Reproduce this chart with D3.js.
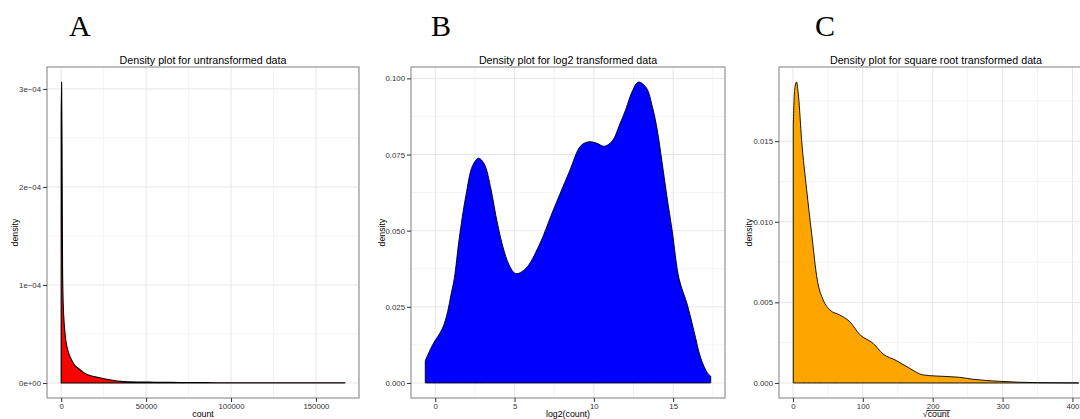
<!DOCTYPE html>
<meta charset="utf-8">
<script src="https://d3js.org/d3.v7.js"></script>
<style>
  body { margin: 0; background: #fff; }
  text { font-family: "Liberation Sans", Arial, sans-serif; }
</style>
<div id="chart"></div>
<script>

// density curves
const countX = [0, 250, 500, 800, 1200, 1800, 2600, 3500, 4500, 6000, 8000, 10000, 12500, 15000, 18000, 22000, 26000, 30000, 35000, 40000, 45000, 52000, 60000, 70000, 85000, 100000, 130000, 167000];
const countY = [2.7e-4, 3.07e-4, 2.4e-4, 1.2e-4, 8e-5, 6e-5, 4.5e-5, 3.6e-5, 3.0e-5, 2.4e-5, 1.8e-5, 1.5e-5, 1.15e-5, 9e-6, 7e-6, 5.5e-6, 4e-6, 2.8e-6, 1.6e-6, 1.1e-6, 0.9e-6, 0.8e-6, 0.7e-6, 0.4e-6, 0.3e-6, 0.2e-6, 0.15e-6, 0.1e-6];

const log2X = [-0.63, -0.17, 0.46, 0.78, 0.99, 1.2, 1.51, 1.93, 2.35, 2.73, 3.09, 3.51, 3.82, 4.24, 4.66, 5.08, 5.71, 6.55, 7.39, 8.44, 9.18, 9.7, 10.2, 10.65, 11.17, 11.6, 12.02, 12.4, 12.81, 13.3, 13.7, 14.0, 14.3, 14.6, 14.95, 15.37, 15.9, 16.32, 16.74, 17.16, 17.37];
const log2Y = [0.0073, 0.0125, 0.018, 0.0234, 0.0289, 0.0343, 0.0474, 0.0615, 0.0713, 0.0738, 0.0719, 0.0637, 0.055, 0.0452, 0.0387, 0.0359, 0.0376, 0.0452, 0.0561, 0.0692, 0.0779, 0.0792, 0.0787, 0.0777, 0.0795, 0.0845, 0.0899, 0.0955, 0.0988, 0.0970, 0.0905, 0.0830, 0.0725, 0.0615, 0.0496, 0.0343, 0.0256, 0.0169, 0.0082, 0.0033, 0.0022];

const sqrtX = [0.5, 2.5, 5.2, 8, 12.4, 19.6, 26.7, 34.8, 43.3, 52.9, 67, 81.4, 95.7, 114.7, 129, 148, 167, 186, 205, 238.6, 257.6, 296, 350, 409];
const sqrtY = [0.0160, 0.0182, 0.01867, 0.0178, 0.0151, 0.012, 0.0093, 0.0064, 0.00515, 0.00453, 0.00422, 0.0038, 0.003, 0.00246, 0.0018, 0.00139, 0.00091, 0.0005, 0.00043, 0.00035, 0.00023, 0.0001, 0.00002, 0.0];

// ticks
const countTicks = [0, 50000, 100000, 150000];
const countDensTicks = [0, 1e-4, 2e-4, 3e-4];
const countDensLabels = ["0e+00", "1e\u221204", "2e\u221204", "3e\u221204"];
const log2Ticks = [0, 5, 10, 15];
const log2DensTicks = [0, 0.025, 0.05, 0.075, 0.1];
const sqrtTicks = [0, 100, 200, 300, 400];
const sqrtDensTicks = [0, 0.005, 0.01, 0.015];

const titles = ["Density plot for untransformed data", "Density plot for log2 transformed data", "Density plot for square root transformed data"];
const letters = ["A", "B", "C"];

const svg = d3.select("#chart").append("svg")
  .attr("width", 1080)
  .attr("height", 419);

const panels = [
  {x: countX, y: countY, xt: countTicks, yt: countDensTicks, yl: countDensLabels, fill: "#ff0000", left: 47, right: 359, letterX: 69, ylabX: 15, xlab: "count", sw: 1.1, curve: d3.curveMonotoneX},
  {x: log2X, y: log2Y, xt: log2Ticks, yt: log2DensTicks, yl: log2DensTicks.map(d3.format(".3f")), fill: "#0000ff", left: 411, right: 725, letterX: 431, ylabX: 382, xlab: "log2(count)", sw: 0.9, curve: d3.curveCatmullRom.alpha(0.5)},
  {x: sqrtX, y: sqrtY, xt: sqrtTicks, yt: sqrtDensTicks, yl: sqrtDensTicks.map(d3.format(".3f")), fill: "#ffa500", left: 779, right: 1093, letterX: 815, ylabX: 749, xlab: "sqrt", sw: 0.9, curve: d3.curveMonotoneX}
];

const panelTop = 67, panelBottom = 398;
const xlabY = 417;

panels.forEach(function(p, i) {
  const g = svg.append("g");

  const xe = d3.extent(p.x), ymax = d3.max(p.y);
  const xpad = (xe[1] - xe[0]) * 0.05, ypad = ymax * 0.05;
  const x = d3.scaleLinear().domain([xe[0] - xpad, xe[1] + xpad]).range([p.left, p.right]);
  const y = d3.scaleLinear().domain([-ypad, ymax + ypad]).range([panelBottom, panelTop]);

  const clipId = "clip" + i;
  g.append("clipPath").attr("id", clipId)
    .append("rect").attr("x", p.left).attr("y", panelTop)
    .attr("width", p.right - p.left).attr("height", panelBottom - panelTop);

  const inner = g.append("g").attr("clip-path", `url(#${clipId})`);

  // grid, minor then major
  const xstep = p.xt[1] - p.xt[0], ystep = p.yt[1] - p.yt[0];
  const xminor = p.xt.map(d => d + xstep / 2).filter(d => d < x.domain()[1]);
  const yminor = p.yt.map(d => d + ystep / 2).filter(d => d < y.domain()[1]);

  inner.selectAll(".vminor").data(xminor).join("line")
    .attr("x1", d => x(d)).attr("x2", d => x(d)).attr("y1", panelTop).attr("y2", panelBottom)
    .style("stroke", "#f4f4f4").style("stroke-width", 1);
  inner.selectAll(".hminor").data(yminor).join("line")
    .attr("y1", d => y(d)).attr("y2", d => y(d)).attr("x1", p.left).attr("x2", p.right)
    .style("stroke", "#f4f4f4").style("stroke-width", 1);
  inner.selectAll(".vmajor").data(p.xt).join("line")
    .attr("x1", d => x(d)).attr("x2", d => x(d)).attr("y1", panelTop).attr("y2", panelBottom)
    .style("stroke", "#e6e6e6").style("stroke-width", 1);
  inner.selectAll(".hmajor").data(p.yt).join("line")
    .attr("y1", d => y(d)).attr("y2", d => y(d)).attr("x1", p.left).attr("x2", p.right)
    .style("stroke", "#e6e6e6").style("stroke-width", 1);

  // density area
  const pts = p.x.map((d, j) => [d, p.y[j]]);
  const area = d3.area()
    .x(d => x(d[0]))
    .y0(y(0))
    .y1(d => y(d[1]))
    .curve(p.curve);

  inner.append("path")
    .datum(pts)
    .attr("d", area)
    .style("fill", p.fill)
    .style("stroke", "#000")
    .style("stroke-width", p.sw)
    .style("stroke-linejoin", "round");

  // border
  g.append("rect")
    .attr("x", p.left).attr("y", panelTop)
    .attr("width", p.right - p.left).attr("height", panelBottom - panelTop)
    .style("fill", "none").style("stroke", "#7f7f7f").style("stroke-width", 1);

  // axes
  const xAxis = d3.axisBottom(x).tickValues(p.xt).tickSize(4).tickSizeOuter(0).tickPadding(1.5)
    .tickFormat(d3.format("d"));
  const gx = g.append("g").attr("transform", `translate(0,${panelBottom})`).call(xAxis);
  gx.select(".domain").remove();

  const yAxis = d3.axisLeft(y).tickValues(p.yt).tickSize(4).tickSizeOuter(0).tickPadding(2)
    .tickFormat((d, j) => p.yl[j]);
  const gy = g.append("g").attr("transform", `translate(${p.left},0)`).call(yAxis);
  gy.select(".domain").remove();

  [gx, gy].forEach(function(a) {
    a.selectAll(".tick line").style("stroke", "#333").style("stroke-width", 1);
    a.selectAll(".tick text").style("font-size", "7.8px").style("fill", "#333")
      .style("font-family", "Liberation Sans, Arial, sans-serif");
  });

  // title
  g.append("text")
    .attr("x", (p.left + p.right) / 2).attr("y", 64)
    .attr("text-anchor", "middle")
    .style("font-size", "10.7px").style("fill", "#000")
    .text(titles[i]);

  // y label
  g.append("text")
    .attr("transform", `translate(${p.ylabX + 3},${(panelTop + panelBottom) / 2}) rotate(-90)`)
    .attr("text-anchor", "middle")
    .style("font-size", "8.8px").style("fill", "#000")
    .text("density");

  // x label
  if (p.xlab === "sqrt") {
    const cx = (p.left + p.right) / 2;
    const t = g.append("text")
      .attr("x", cx).attr("y", xlabY)
      .attr("text-anchor", "middle")
      .style("font-size", "8.8px").style("fill", "#000");
    t.append("tspan").text("\u221a");
    const word = t.append("tspan").text("count");
    const bb = word.node().getBBox();
    g.append("line")
      .attr("x1", bb.x - 1).attr("x2", bb.x + bb.width + 0.5)
      .attr("y1", xlabY - 6.5).attr("y2", xlabY - 6.5)
      .style("stroke", "#000").style("stroke-width", 0.7);
  } else {
    g.append("text")
      .attr("x", (p.left + p.right) / 2).attr("y", xlabY)
      .attr("text-anchor", "middle")
      .style("font-size", "8.8px").style("fill", "#000")
      .text(p.xlab);
  }

  // panel letter
  svg.append("text")
    .attr("x", p.letterX).attr("y", 36)
    .style("font-family", "Liberation Serif, Times New Roman, serif")
    .style("font-size", "30px").style("fill", "#000")
    .text(letters[i]);
});

</script>
